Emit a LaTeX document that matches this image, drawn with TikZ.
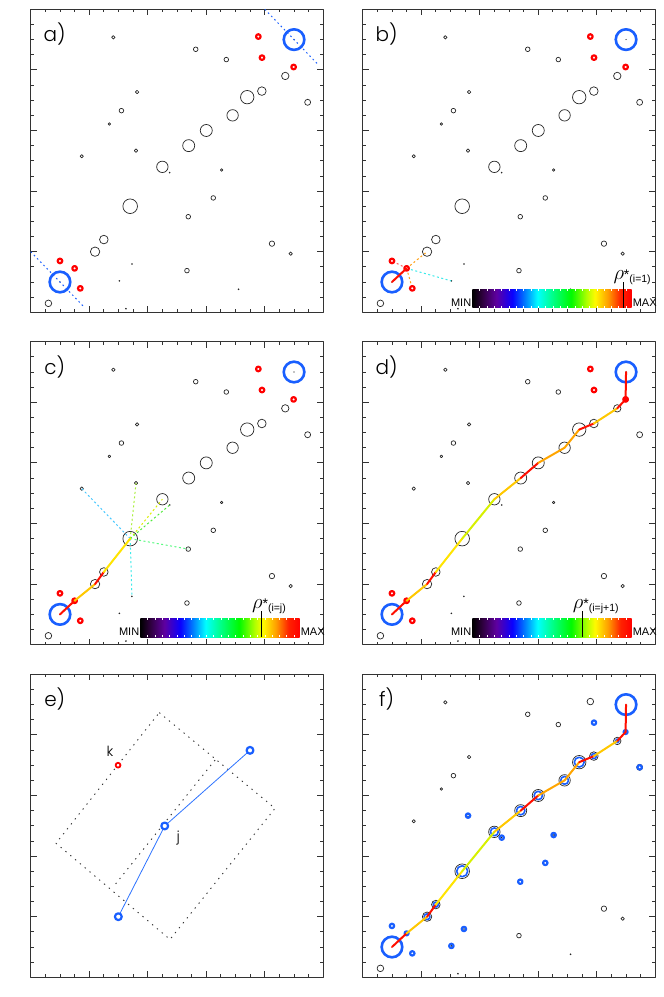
\documentclass[tikz,border=0pt]{standalone}
\usepackage{fontspec}
\newfontfamily\lblfont{Poppins Light}
\newfontfamily\barfnt{Liberation Sans}
\definecolor{ringblue}{RGB}{25,95,255}
\definecolor{lineblue}{RGB}{45,115,255}
\definecolor{segred}{RGB}{255,15,0}
\definecolor{segorange}{RGB}{255,165,0}
\definecolor{segamber}{RGB}{255,200,0}
\definecolor{segyellow}{RGB}{255,228,0}
\definecolor{seglime}{RGB}{215,240,0}
\definecolor{candpink}{RGB}{255,90,90}
\definecolor{candorange}{RGB}{255,160,20}
\definecolor{candcyan}{RGB}{60,235,235}
\definecolor{candsky}{RGB}{70,200,255}
\definecolor{candlime}{RGB}{170,240,60}
\definecolor{candyellow}{RGB}{220,240,0}
\definecolor{candgreen}{RGB}{80,235,60}
\definecolor{candmint}{RGB}{90,250,130}
\definecolor{cbar0}{RGB}{0,0,0}
\definecolor{cbar1}{RGB}{45,0,60}
\definecolor{cbar2}{RGB}{95,0,160}
\definecolor{cbar3}{RGB}{10,0,255}
\definecolor{cbar4}{RGB}{0,125,255}
\definecolor{cbar5}{RGB}{0,255,255}
\definecolor{cbar6}{RGB}{0,255,140}
\definecolor{cbar7}{RGB}{0,250,0}
\definecolor{cbar8}{RGB}{180,255,0}
\definecolor{cbar9}{RGB}{255,250,0}
\definecolor{cbar10}{RGB}{255,160,0}
\definecolor{cbar11}{RGB}{255,35,0}
\definecolor{cbar12}{RGB}{255,0,0}
\pgfdeclarehorizontalshading{rhorainbow}{100bp}{color(0bp)=(cbar0); color(25bp)=(cbar0); color(28bp)=(cbar1); color(32.5bp)=(cbar2); color(37.5bp)=(cbar3); color(41.5bp)=(cbar4); color(45.5bp)=(cbar5); color(50bp)=(cbar6); color(56bp)=(cbar7); color(61bp)=(cbar8); color(63.5bp)=(cbar9); color(67.5bp)=(cbar10); color(71.5bp)=(cbar11); color(75bp)=(cbar12); color(100bp)=(cbar12)}

\begin{document}
\begin{tikzpicture}[line join=round, line cap=round,
  panel/.style={shift={(#1)}, x=14.63pt, y=15.15pt},
  frame/.style={draw=black!80, line width=0.8pt, line cap=butt},
  fieldring/.style={draw=black!85, line width=0.7pt},
  redring/.style={draw=red, line width=2.2pt, fill=white},
  smallblue/.style={draw=ringblue, line width=2.2pt},
  bigblue/.style={draw=ringblue, line width=2.6pt},
  innerblue/.style={draw=ringblue, line width=1.6pt},
  bluedots/.style={draw=ringblue, line width=1pt, line cap=butt, dash pattern=on 1.6pt off 3pt},
  chainseg/.style={line width=2pt},
  candidate/.style={line width=1pt, line cap=butt, dash pattern=on 2pt off 2.5pt},
  boxdots/.style={draw=black!80, line width=0.9pt, line cap=butt, dash pattern=on 1.3pt off 5pt},
  plabel/.style={font=\lblfont\fontsize{20}{20}\selectfont, inner sep=0pt},
  barfont/.style={font=\barfnt\fontsize{11}{11}\selectfont},
  ptlabel/.style={font=\lblfont\fontsize{14}{14}\selectfont, inner sep=0pt}]
\def\fieldlist{1.21/0.59/3.3, 11.28/17.36/2.3, 13.37/16.68/2.3, 5.65/18.15/1.7, 7.27/14.54/1.7, 6.2/13.31/2.3, 5.38/12.43/1.3, 7.2/10.67/1.7, 3.49/10.3/1.7, 13.05/9.39/1.3, 12.48/7.55/2.3, 10.77/6.31/2.3, 16.49/4.53/2.7, 17.77/3.87/1.7, 10.68/2.75/2.3, 18.93/13.86/3}
\def\dotlist{9.5/9.22, 6.92/3.19, 6.06/2.07, 14.21/1.52, 6.51/0.24}
\def\bigringlist{4.4/4/4.7, 5/4.8/4.3, 6.8/7/7.3, 9/9.6/5.7, 10.8/11/6, 12/12/6, 13.8/13/5.7, 14.8/14.2/6.7, 15.8/14.6/4.3, 17.4/15.6/3.7}
\def\redlist{15.56/18.2, 15.81/16.81, 17.97/16.19, 2/3.39, 3/2.9, 3.39/1.58}
\def\bluelist{7.2/10.67, 13.05/9.39, 12.48/7.55, 10.77/6.31, 18.93/13.86, 9.5/9.22, 6.92/3.19, 6.06/2.07, 2/3.39, 3.39/1.58, 15.81/16.81}
\def\chainsegs{0/1/segred, 1/2/segamber, 2/3/segred, 3/4/segyellow, 4/5/seglime, 5/6/segamber, 6/7/segred, 7/8/segorange, 8/9/segorange, 9/10/segred, 10/11/segamber, 11/12/segred, 12/13/segred}
\def\panelbox{%
  \draw[frame] (0,0) rectangle (20,20);
  \foreach \t in {1,...,19}
    \draw[frame] (\t,0) -- ++(0,3pt) (\t,20) -- ++(0,-3pt) (0,\t) -- ++(3pt,0) (20,\t) -- ++(-3pt,0);
  \foreach \t in {4,8,12,16}
    \draw[frame] (\t,0) -- ++(0,6pt) (\t,20) -- ++(0,-6pt) (0,\t) -- ++(6pt,0) (20,\t) -- ++(-6pt,0);
}
\def\chainnodes{%
  \foreach \x/\y [count=\i from 0] in {2/2, 3/2.9, 4.4/4, 5/4.8, 6.8/7, 9/9.6, 10.8/11, 12/12, 13.8/13, 14.8/14.2, 15.8/14.6, 17.4/15.6, 17.97/16.19, 18/18}
    \coordinate (n\i) at (\x,\y);
}
\def\basefield{%
  \foreach \x/\y/\r in \fieldlist \draw[fieldring] (\x,\y) circle[radius=\r*1pt];
  \foreach \x/\y in \dotlist \fill[black!85] (\x,\y) circle[radius=0.9pt];
  \foreach \x/\y/\r in \bigringlist \draw[fieldring] (\x,\y) circle[radius=\r*1pt];
}
\def\redrings{\foreach \x/\y in \redlist \draw[redring] (\x,\y) circle[radius=2.3pt];}
\def\endrings{\foreach \n in {n0,n13} {\draw[bigblue] (\n) circle[radius=10.3pt]; \fill (\n) circle[radius=0.6pt];}}
\def\rholabel#1{{\fontsize{20}{20}\selectfont$\rho$}{\barfnt\fontsize{14}{14}\selectfont*}\raisebox{-2.5pt}{\barfnt\fontsize{10.5}{10.5}\selectfont(#1)}}
\def\rhobar#1#2#3#4{%
  \shade[shading=rhorainbow] (7.5,#1) rectangle (18.38,#2);
  \foreach \t in {8,8.5,...,18}
    \draw[white, line width=0.5pt, line cap=butt] (\t,#2) -- ++(0,-1.8pt) (\t,#1) -- ++(0,1.8pt);
  \draw[line width=1.1pt, line cap=butt] (#3,#1) -- (#3,#2+0.45);
  \node[barfont, anchor=south east, inner sep=1pt] (barmin) at (7.5,#1) {MIN};
  \node[barfont, anchor=south west, inner sep=1pt] (barmax) at (18.38,#1) {MAX};
  \node[anchor=south west, inner sep=0pt] (rholbl) at (#3-0.68,#2+0.3) {\rholabel{#4}};
}
\path[fill=white] (0,0) rectangle (664pt,997pt);
\useasboundingbox (0,0) rectangle (664pt,997pt);

% a) end points and the dividing lines
\begin{scope}[panel={30.7pt,684.7pt}]
  \panelbox
  \chainnodes
  \basefield
  \redrings
  \endrings
  \draw[bluedots] (n0) ++(-2,2) -- ++(3.7,-3.7);
  \draw[bluedots] (n13) ++(-2,2) -- ++(3.7,-3.7);
  \node[plabel] (lbla) at (1.64,18.35) {a)};
\end{scope}

% b) first step
\begin{scope}[panel={362.7pt,684.7pt}]
  \panelbox
  \chainnodes
  \basefield
  \foreach \x/\y/\c in {2/3.39/candpink, 4.4/4/candorange, 3.39/1.58/candorange, 6.06/2.07/candcyan}
    {\coordinate (q) at (\x,\y); \draw[candidate, \c] (n1) -- (q);}
  \redrings
  \endrings
  \draw[chainseg, segred] (n0) -- (n1);
  \rhobar{0.3}{1.52}{17.81}{i=1}
  \node[plabel] (lblb) at (1.64,18.35) {b)};
\end{scope}

% c) step j
\begin{scope}[panel={30.7pt,352.3pt}]
  \panelbox
  \chainnodes
  \basefield
  \foreach \x/\y/\c in {3.49/10.3/candsky, 7.2/10.67/candlime, 9/9.6/candyellow, 9.5/9.22/candgreen, 10.77/6.31/candmint, 6.92/3.19/candcyan}
    {\coordinate (q) at (\x,\y); \draw[candidate, \c] (n4) -- (q);}
  \redrings
  \endrings
  \foreach \a/\b/\c in {0/1/segred, 1/2/segamber, 2/3/segred, 3/4/segyellow}
    \draw[chainseg, \c] (n\a) -- (n\b);
  \rhobar{0.5}{1.75}{15.8}{i=j}
  \node[plabel] (lblc) at (1.64,18.35) {c)};
\end{scope}

% d) whole chain
\begin{scope}[panel={362.7pt,352.3pt}]
  \panelbox
  \chainnodes
  \basefield
  \redrings
  \endrings
  \foreach \a/\b/\c in \chainsegs
    \draw[chainseg, \c] (n\a) -- (n\b);
  \fill[red] (n12) circle[radius=3pt];
  \rhobar{0.5}{1.75}{15.04}{i=j+1}
  \node[plabel] (lbld) at (1.64,18.35) {d)};
\end{scope}

% e) box round j
\begin{scope}[panel={30.7pt,19.7pt}]
  \panelbox
  \coordinate (ta) at (8.79,17.47);
  \coordinate (tb) at (16.7,11.15);
  \coordinate (tc) at (9.52,2.5);
  \coordinate (td) at (1.73,8.85);
  \coordinate (ma) at (12.6,14.34);
  \coordinate (mb) at (5.65,5.98);
  \draw[boxdots] (ta) -- (tb) -- (tc) -- (td) -- cycle;
  \draw[boxdots] (ma) -- (mb);
  \coordinate (pi) at (5.99,4);
  \coordinate (pj) at (9.16,9.99);
  \coordinate (pn) at (14.99,14.98);
  \coordinate (pk) at (5.97,14);
  \draw[lineblue, line width=0.8pt] (pi) -- (pj) -- (pn);
  \foreach \n in {pi,pj,pn} \draw[ringblue, line width=2.2pt, fill=white] (\n) circle[radius=3.4pt];
  \draw[redring, line width=1.8pt] (pk) circle[radius=2.4pt];
  \node[ptlabel] (lblk) at (5.42,14.89) {k};
  \node[ptlabel] (lblj) at (10.09,9.17) {j};
  \node[plabel] (lble) at (1.64,18.35) {e)};
\end{scope}

% f) resulting chain
\begin{scope}[panel={362.7pt,19.7pt}]
  \panelbox
  \chainnodes
  \basefield
  \draw[fieldring] (15.56,18.2) circle[radius=3.3pt];
  \foreach \x/\y in \bluelist \draw[smallblue] (\x,\y) circle[radius=2.2pt];
  \foreach \x/\y/\r in \bigringlist \draw[innerblue] (\x,\y) circle[radius=\r*1pt-1.8pt];
  \foreach \n in {n1,n12} \draw[smallblue] (\n) circle[radius=2pt];
  \foreach \n in {n0,n13} \draw[bigblue] (\n) circle[radius=10.3pt];
  \foreach \a/\b/\c in \chainsegs
    \draw[chainseg, \c] (n\a) -- (n\b);
  \node[plabel] (lblf) at (1.64,18.35) {f)};
\end{scope}
\end{tikzpicture}
\end{document}
